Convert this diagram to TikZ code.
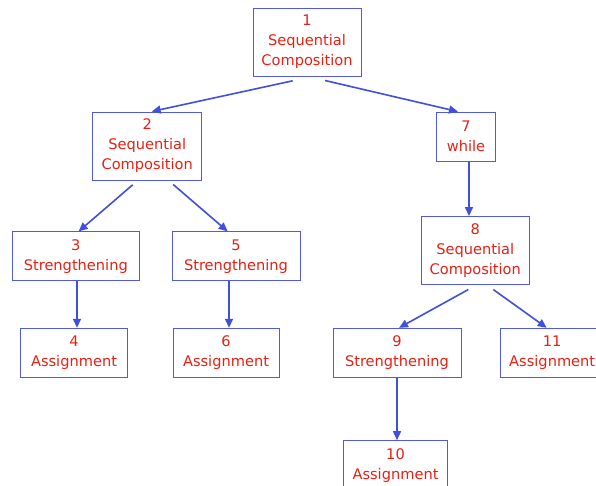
\documentclass[tikz,border=0pt]{standalone}
\usepackage{fontspec}
\setmainfont{DejaVu Sans}
\usetikzlibrary{arrows.meta}
\definecolor{txtred}{RGB}{232,32,20}
\definecolor{boxblue}{RGB}{80,90,220}
\definecolor{lineblue}{RGB}{64,80,220}
\tikzset{
  tnode/.style={draw=boxblue, line width=1pt, fill=white, text=txtred,
    align=center, inner sep=0pt, font=\fontsize{14.6}{20}\selectfont},
  conn/.style={draw=lineblue, line width=1.6pt, -{Triangle[length=9pt,width=8pt]}}
}
\begin{document}
\begin{tikzpicture}[x=1pt,y=-1pt]
\useasboundingbox (0,0) rectangle (596,485);
\node[tnode, minimum width=108pt, minimum height=68pt] (n1) at (307,42) {1\\Sequential\\Composition};
\node[tnode, minimum width=109pt, minimum height=68pt] (n2) at (147.2,146) {2\\Sequential\\Composition};
\node[tnode, minimum width=58.6pt, minimum height=49pt] (n7) at (466,136.6) {7\\while};
\node[tnode, minimum width=127pt, minimum height=49pt] (n3) at (75.8,256.4) {3\\Strengthening};
\node[tnode, minimum width=128pt, minimum height=49pt] (n5) at (236,256.4) {5\\Strengthening};
\node[tnode, minimum width=107.5pt, minimum height=67.5pt] (n8) at (475.3,250.3) {8\\Sequential\\Composition};
\node[tnode, minimum width=106.6pt, minimum height=49pt] (n4) at (74,352.8) {4\\Assignment};
\node[tnode, minimum width=106pt, minimum height=49pt] (n6) at (226,352.8) {6\\Assignment};
\node[tnode, minimum width=128pt, minimum height=49pt] (n9) at (397,352.8) {9\\Strengthening};
\node[tnode, minimum width=103pt, minimum height=49pt] (n11) at (552.2,352.8) {11\\Assignment};
\node[tnode, minimum width=104pt, minimum height=49pt] (n10) at (395.5,465.2) {10\\Assignment};

\draw[conn] ([shift={(-14.3,4.3)}]n1.south) -- ([xshift=4.5pt]n2.north);
\draw[conn] ([shift={(18,4)}]n1.south) -- ([xshift=-8pt]n7.north);
\draw[conn] ([shift={(-14.5,4.3)}]n2.south) -- ([xshift=2.8pt]n3.north);
\draw[conn] ([shift={(26,4)}]n2.south) -- ([xshift=-8.3pt]n5.north);
\draw[conn] ([xshift=1.2pt]n3.south) -- ([xshift=3pt]n4.north);
\draw[conn] ([xshift=-7pt]n5.south) -- ([xshift=3pt]n6.north);
\draw[conn] ([xshift=3pt]n7.south) -- ([xshift=-6.3pt]n8.north);
\draw[conn] ([shift={(-7,5)}]n8.south) -- ([xshift=2pt]n9.north);
\draw[conn] ([shift={(18,5)}]n8.south) -- ([xshift=-5.5pt]n11.north);
\draw[conn] (n9.south) -- ([xshift=1.5pt]n10.north);
\end{tikzpicture}
\end{document}
